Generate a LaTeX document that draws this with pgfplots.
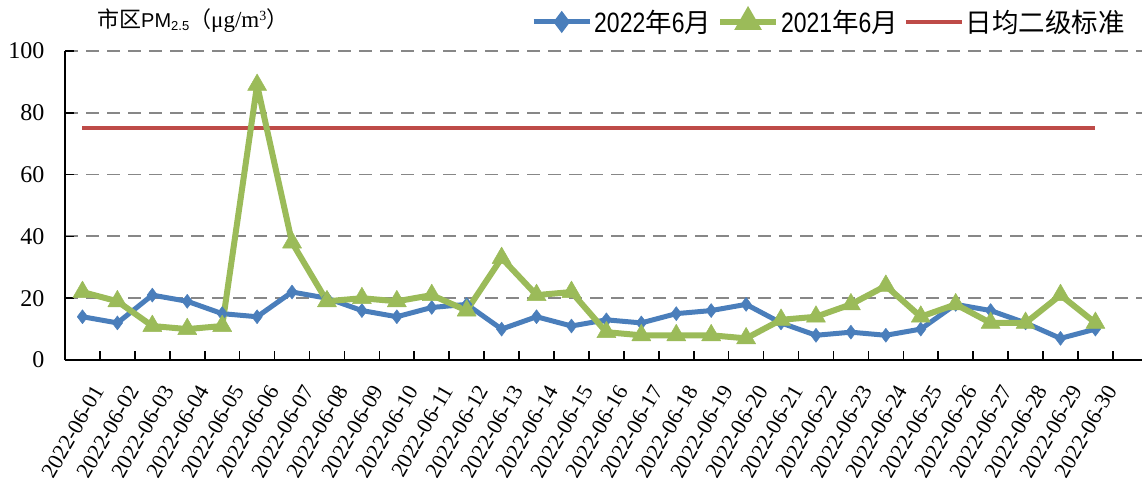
\documentclass[border=0pt]{standalone}
\usepackage{fontspec}
\usepackage{pgfplots}
\usepackage{pgfplotstable}
\pgfplotsset{compat=1.18}
\setmainfont{Liberation Serif}
\newfontfamily\cjk{Noto Sans CJK SC}
\newfontfamily\arial{Liberation Sans}
\newfontfamily\legnum{Liberation Sans}[FakeStretch=0.82]
\definecolor{cblue}{HTML}{4A7EBB}
\definecolor{cgreen}{HTML}{9BBB59}
\definecolor{cred}{HTML}{BE4B48}
\definecolor{cgrid}{HTML}{878787}
\newcommand\ym[2]{{\legnum #1}{\cjk\fontsize{26.5bp}{28bp}\selectfont 年}{\legnum #2}{\cjk\fontsize{26.5bp}{28bp}\selectfont 月}}

\pgfplotstableread{
x y
1 14
2 12
3 21
4 19
5 15
6 14
7 22
8 20
9 16
10 14
11 17
12 18
13 10
14 14
15 11
16 13
17 12
18 15
19 16
20 18
21 12
22 8
23 9
24 8
25 10
26 18
27 16
28 12
29 7
30 10
}\tblA

\pgfplotstableread{
x y
1 22
2 19
3 11
4 10
5 11
6 89
7 38
8 19
9 20
10 19
11 21
12 16
13 33
14 21
15 22
16 9
17 8
18 8
19 8
20 7
21 13
22 14
23 18
24 24
25 14
26 18
27 12
28 12
29 21
30 12
}\tblB

\begin{document}
\begin{tikzpicture}
\useasboundingbox (0,0) rectangle (1142bp,482bp);
\begin{axis}[
  at={(65bp,122bp)}, anchor=south west,
  scale only axis, width=1080bp, height=309bp,
  xmin=0.5, xmax=31.42, ymin=0, ymax=100,
  axis x line=bottom, axis y line=left,
  axis line style={-, line width=2bp, black},
  tick align=inside,
  tick style={line width=1.6bp, black},
  major tick length=9bp,
  ytick={0,20,...,100},
  xtick={0.5,1.5,...,30.5},
  xticklabels={},
  extra x ticks={1,2,...,30},
  extra x tick labels={2022-06-01,2022-06-02,2022-06-03,2022-06-04,2022-06-05,2022-06-06,2022-06-07,2022-06-08,2022-06-09,2022-06-10,2022-06-11,2022-06-12,2022-06-13,2022-06-14,2022-06-15,2022-06-16,2022-06-17,2022-06-18,2022-06-19,2022-06-20,2022-06-21,2022-06-22,2022-06-23,2022-06-24,2022-06-25,2022-06-26,2022-06-27,2022-06-28,2022-06-29,2022-06-30},
  extra x tick style={major tick length=0pt, grid=none,
    xticklabel style={font=\fontsize{22bp}{24bp}\selectfont, /tikz/xshift=18bp, /tikz/yshift=-24bp, rotate=60, anchor=east}},
  ymajorgrids,
  grid style={cgrid, line width=1.8bp, dash pattern=on 13bp off 8bp},
  /pgf/number format/assume math mode=true,
  yticklabel style={font=\fontsize{24bp}{26bp}\selectfont, xshift=-17bp},
  legend image code/.code={\draw[mark repeat=2,mark phase=2,#1] plot coordinates {(0bp,0bp) (28bp,0bp) (56bp,0bp)};},
  legend style={at={(axis description cs:0.4315,1.094)}, anchor=west, draw=none, fill=none, inner sep=0pt,
    font=\fontsize{28bp}{30bp}\selectfont, /tikz/every even column/.append style={column sep=4bp}},
  legend columns=3,
  clip=false,
]
\addlegendimage{cblue, line width=5bp, mark=diamond*, mark size=7bp, mark options={solid, fill=cblue, draw=cblue}}
\addlegendentry{\ym{2022}{6}}
\addlegendimage{cgreen, line width=6bp, mark=triangle*, mark size=10bp, mark options={solid, fill=cgreen, draw=cgreen}}
\addlegendentry{\ym{2021}{6}}
\addlegendimage{cred, line width=4bp}
\addlegendentry{{\cjk\fontsize{26.5bp}{28bp}\selectfont 日均二级标准}}

\addplot[forget plot, cred, line width=4bp] coordinates {(1,75) (30,75)};
\addplot[forget plot, cblue, line width=5bp, line join=round, mark=diamond*, mark size=7bp, mark options={solid, fill=cblue, draw=cblue, line width=0.5bp}] table[x=x,y=y] {\tblA};
\addplot[forget plot, cgreen, line width=6bp, line join=round, mark=triangle*, mark size=11bp, mark options={solid, fill=cgreen, draw=cgreen, line width=0.5bp}] table[x=x,y=y] {\tblB};

\node[anchor=west, inner sep=0pt] at (axis description cs:0.0296,1.1)
  {{\cjk\fontsize{22bp}{24bp}\selectfont 市区}{\arial\fontsize{20bp}{22bp}\selectfont PM\raisebox{-3.5bp}{\fontsize{13bp}{14bp}\selectfont 2.5}}{\cjk\fontsize{22bp}{24bp}\selectfont （}{\fontsize{23bp}{24bp}\selectfont μg/m\raisebox{7bp}{\fontsize{14bp}{15bp}\selectfont 3}}{\cjk\fontsize{22bp}{24bp}\selectfont ）}};
\end{axis}
\end{tikzpicture}
\end{document}
